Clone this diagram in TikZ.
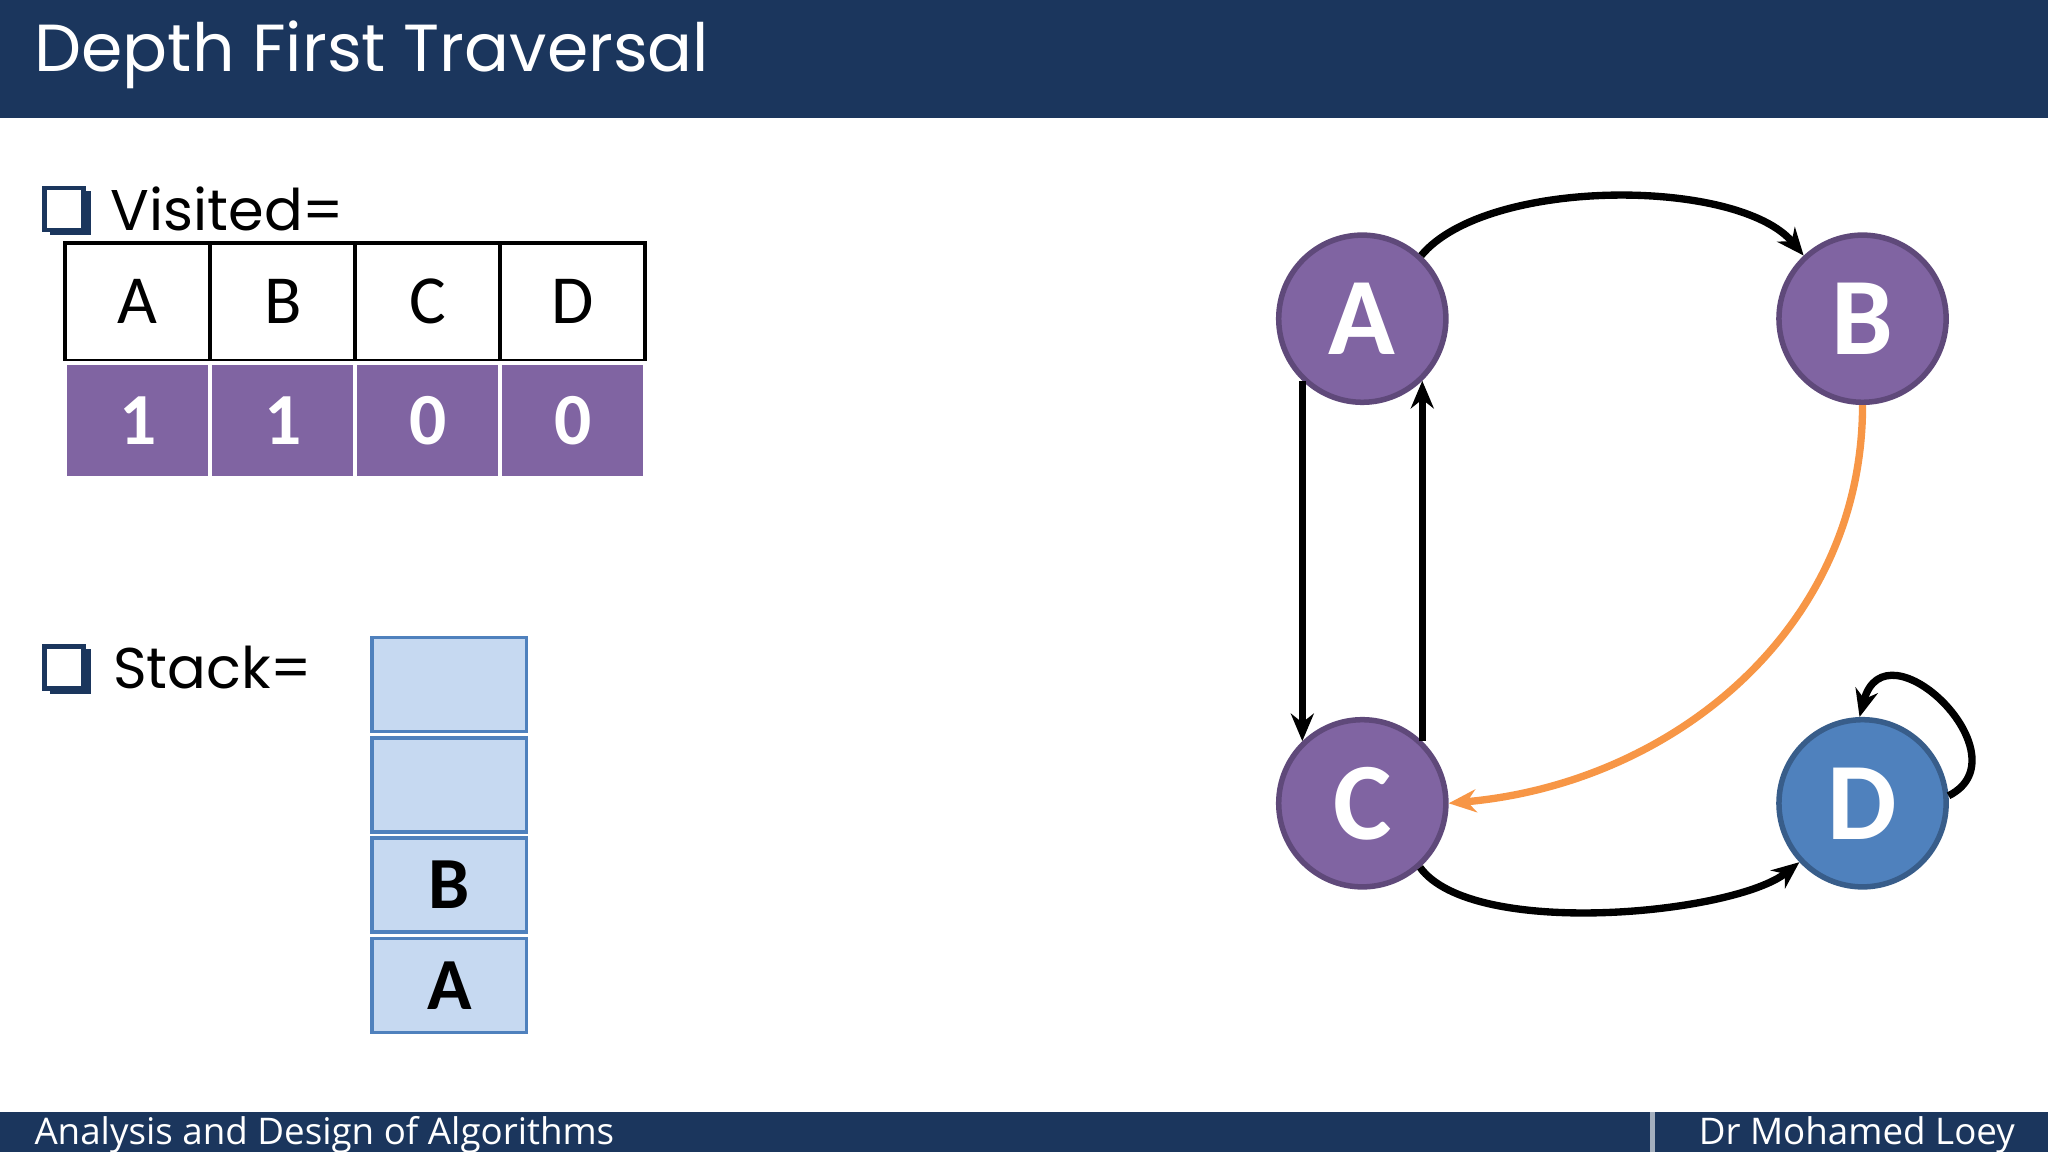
\documentclass[tikz,border=0pt]{standalone}
\usepackage{fontspec}
\setmainfont{Carlito}
\newfontfamily\titlefont{Poppins}
\newfontfamily\footfont{Open Sans}
\usetikzlibrary{positioning,arrows.meta}
\definecolor{navy}{HTML}{1B365D}
\definecolor{vpurple}{HTML}{8064A2}
\definecolor{dpurple}{HTML}{5F497A}
\definecolor{vblue}{HTML}{4F81BD}
\definecolor{dblue}{HTML}{385D8A}
\definecolor{sfill}{HTML}{C6D9F1}
\definecolor{vorange}{HTML}{F79646}

\begin{document}
\begin{tikzpicture}[
    vertex/.style={circle,minimum size=1.28cm,inner sep=0pt,fill=vpurple,draw=dpurple,line width=1.2pt,
        text=white,font=\fontsize{24}{24}\selectfont\bfseries},
    headcell/.style={draw=black,line width=0.8pt,minimum width=1.11cm,minimum height=0.9cm,inner sep=0pt,
        font=\fontsize{15}{15}\selectfont},
    bitcell/.style={fill=vpurple,draw=white,line width=0.8pt,minimum width=1.11cm,minimum height=0.88cm,
        inner sep=0pt,text=white,font=\fontsize{16}{16}\selectfont\bfseries},
    stackcell/.style={fill=sfill,draw=vblue,line width=0.8pt,minimum width=1.18cm,minimum height=0.72cm,
        inner sep=0pt,font=\fontsize{16}{16}\selectfont\bfseries},
    edge/.style={-{Stealth[length=6pt,width=5pt]},line width=1.6pt},
    bullettext/.style={anchor=west,inner sep=0pt,font=\titlefont\fontsize{12.5}{12.5}\selectfont}
]
\useasboundingbox (0,0) rectangle (15.68,8.82);
% bars
\fill[navy] (0,7.92) rectangle (15.68,8.82);
\fill[navy] (0,0) rectangle (15.68,0.31);
\draw[white!60!navy,line width=1pt] (12.65,0) -- (12.65,0.31);
\node[anchor=west,text=white,font=\titlefont\fontsize{14.5}{14.5}\selectfont] (title) at (0.14,8.4) {Depth First Traversal};
\node[anchor=west,text=white,font=\footfont\fontsize{8}{8}\selectfont] (course) at (0.14,0.13) {Analysis and Design of Algorithms};
\node[anchor=east,text=white,font=\footfont\fontsize{8}{8}\selectfont] (author) at (15.55,0.13) {Dr Mohamed Loey};
% check boxes
\foreach \y in {7.22,3.71}{
    \fill[navy] (0.38,\y-0.2) rectangle (0.7,\y+0.14);
    \fill[white] (0.34,\y-0.16) rectangle (0.64,\y+0.16);
    \draw[navy,line width=1pt] (0.34,\y-0.16) rectangle (0.64,\y+0.16);
}
\node[bullettext] (visited) at (0.84,7.22) {Visited=};
\node[bullettext] (stack) at (0.86,3.71) {Stack=};
% visited table
\foreach \l/\b [count=\i] in {A/1,B/1,C/0,D/0}{
    \node[headcell] (h\i) at (0.5+1.11*\i-0.555,6.51) {\l};
    \node[bitcell] (v\i) at (0.5+1.11*\i-0.555,5.6) {\b};
}
% stack
\node[stackcell] (s4) at (3.44,3.58) {};
\node[stackcell] (s3) [below=0.02cm of s4] {};
\node[stackcell] (s2) [below=0.02cm of s3] {B};
\node[stackcell] (s1) [below=0.02cm of s2] {A};
% graph
\node[vertex] (A) at (10.43,6.38) {A};
\node[vertex] (B) at (14.26,6.38) {B};
\node[vertex] (C) at (10.43,2.67) {C};
\node[vertex,fill=vblue,draw=dblue] (D) at (14.26,2.67) {D};
\draw[edge] (A.47) .. controls +(0.5,0.6) and +(-0.5,0.6) .. (B.133);
\draw[edge] (A.-134) -- (C.134);
\draw[edge] (C.46) -- (A.-46);
\draw[edge,vorange] (B.south) to[out=-90,in=5] (C.east);
\draw[edge] (C.-48) .. controls +(0.4,-0.55) and +(-0.5,-0.4) .. (D.-137);
\draw[edge] (D.5) .. controls +(0.6,0.3) and +(0.2,0.75) .. (D.92);
\end{tikzpicture}
\end{document}
